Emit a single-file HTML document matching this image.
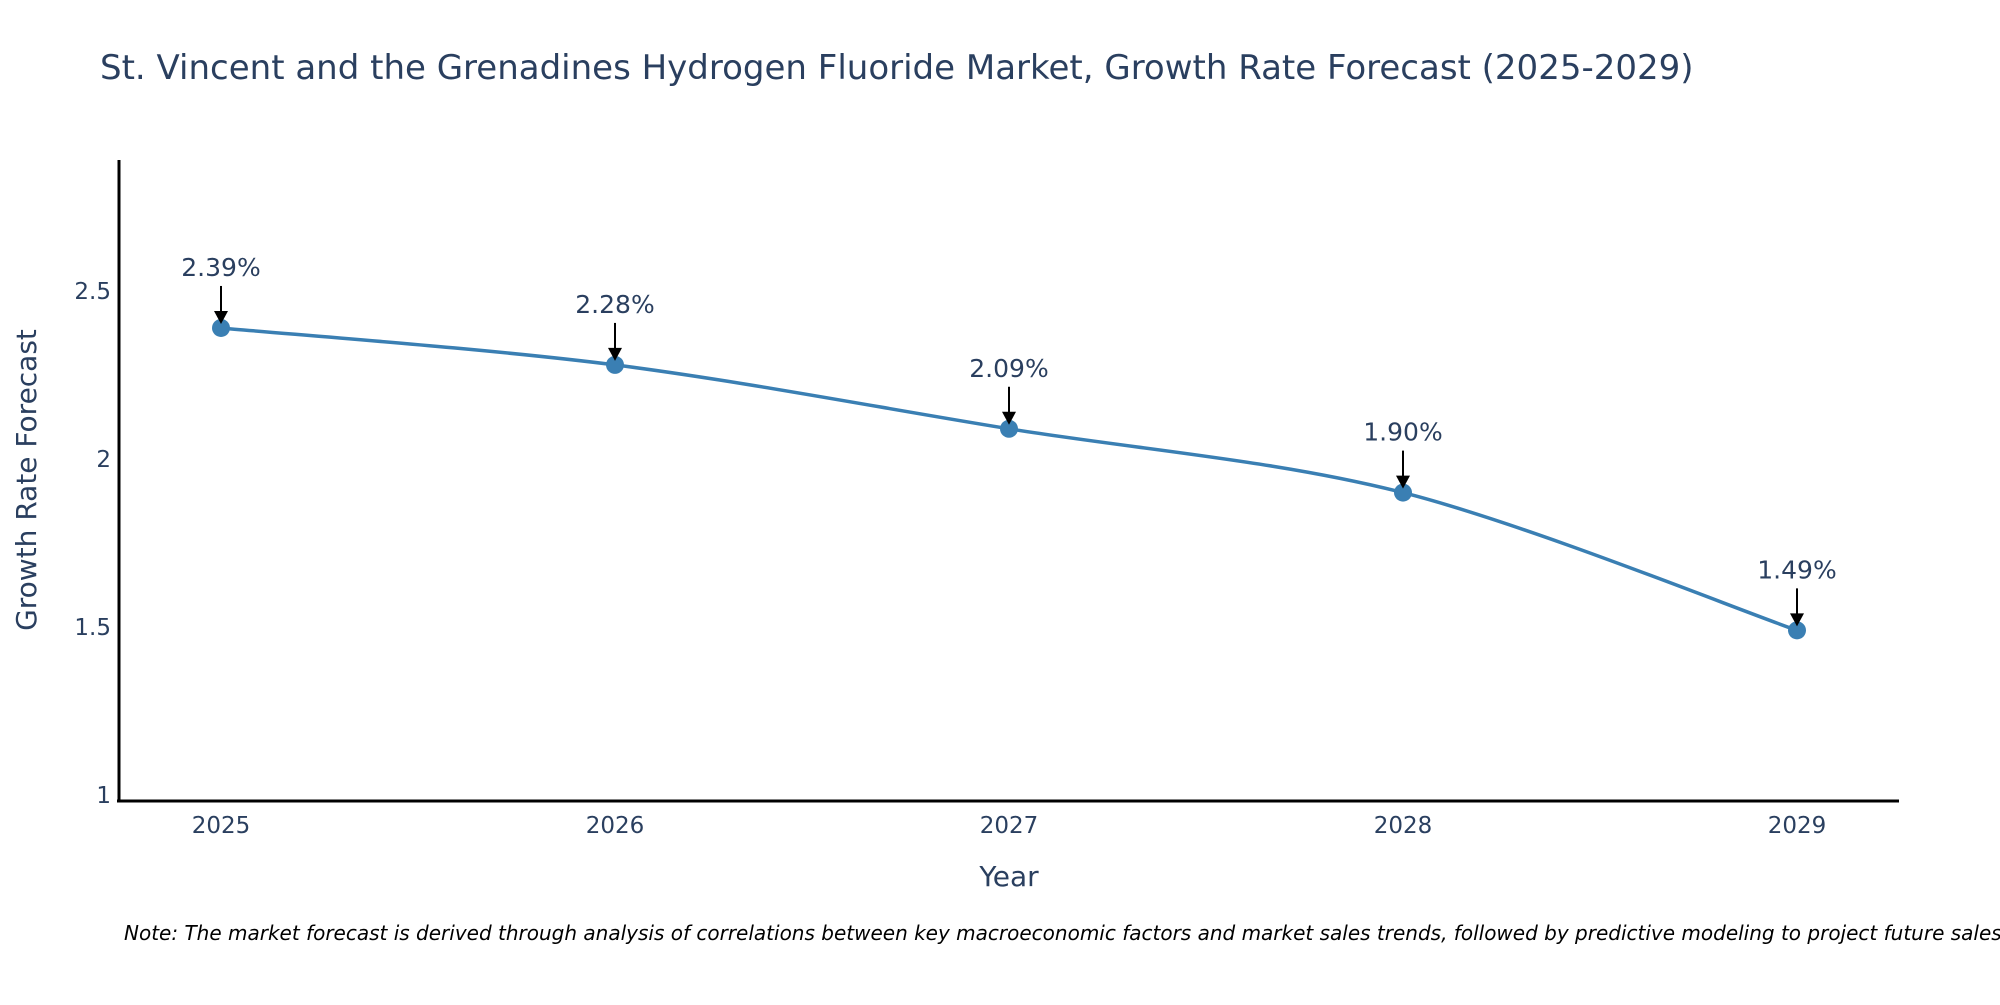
<!DOCTYPE html>
<html><head><meta charset="utf-8"><style>
body{margin:0;background:#fff}
svg text{font-family:"DejaVu Sans","Liberation Sans",sans-serif}
</style></head><body>
<svg id="chart" width="2000" height="1000" viewBox="0 0 2000 1000" xmlns="http://www.w3.org/2000/svg">
<rect width="2000" height="1000" fill="#fff"/>
<text x="100" y="79" font-size="34" fill="#2a3f5f">St. Vincent and the Grenadines Hydrogen Fluoride Market, Growth Rate Forecast (2025-2029)</text>
<g id="yticks"></g>
<g id="xticks"></g>
<line x1="119" y1="160" x2="119" y2="802" stroke="#000" stroke-width="3"/>
<line x1="117" y1="801" x2="1899" y2="801" stroke="#000" stroke-width="3"/>
<path id="line" fill="none" stroke="#3a7fb3" stroke-width="3.5"/>
<g id="marks"></g>
<text x="1009" y="886" font-size="28" fill="#2a3f5f" text-anchor="middle">Year</text>
<text transform="translate(36,480) rotate(-90)" font-size="28" fill="#2a3f5f" text-anchor="middle">Growth Rate Forecast</text>
<text x="124" y="940" font-size="20" font-style="italic" fill="#000">Note: The market forecast is derived through analysis of correlations between key macroeconomic factors and market sales trends, followed by predictive modeling to project future sales.</text>
</svg>
<script>
const years=[2025,2026,2027,2028,2029];
const values=[2.39,2.28,2.09,1.90,1.49];
const labels=["2.39%","2.28%","2.09%","1.90%","1.49%"];
const yTicks=[1,1.5,2,2.5];
const yTickLabels=["1","1.5","2","2.5"];
const NS="http://www.w3.org/2000/svg";
const xS=v=>221+(v-2025)*394;
const yS=v=>795-(v-1)*336;
function mk(t,a){const e=document.createElementNS(NS,t);for(const k in a)e.setAttribute(k,a[k]);return e;}
const yt=document.getElementById('yticks');
yTicks.forEach((v,i)=>{const t=mk('text',{x:111,y:yS(v)+8,'font-size':23,fill:'#2a3f5f','text-anchor':'end'});


t.textContent=yTickLabels[i];yt.appendChild(t);});
const xt=document.getElementById('xticks');
years.forEach(v=>{const t=mk('text',{x:xS(v),y:833,'font-size':23,fill:'#2a3f5f','text-anchor':'middle'});


t.textContent=v;xt.appendChild(t);});
const P=years.map((y,i)=>[xS(y),yS(values[i])]);
let d=`M${P[0][0]},${P[0][1]}`;
for(let i=0;i<P.length-1;i++){const p0=P[Math.max(0,i-1)],p1=P[i],p2=P[i+1],p3=P[Math.min(P.length-1,i+2)];const s=0.16;
d+=` C${p1[0]+(p2[0]-p0[0])*s},${p1[1]+(p2[1]-p0[1])*s} ${p2[0]-(p3[0]-p1[0])*s},${p2[1]-(p3[1]-p1[1])*s} ${p2[0]},${p2[1]}`;}
document.getElementById('line').setAttribute('d',d);
const g=document.getElementById('marks');
P.forEach((p,i)=>{
const c=mk('circle',{cx:p[0],cy:p[1],r:9,fill:'#3a7fb3'});


g.appendChild(c);
const l=mk('line',{x1:p[0],y1:p[1]-42,x2:p[0],y2:p[1]-14,stroke:'#000','stroke-width':2});


g.appendChild(l);
const h=mk('polygon',{points:`${p[0]-7},${p[1]-17} ${p[0]+7},${p[1]-17} ${p[0]},${p[1]-4}`,fill:'#000'});


g.appendChild(h);
const t=mk('text',{x:p[0],y:p[1]-52,'font-size':25,fill:'#2a3f5f','text-anchor':'middle'});


t.textContent=labels[i];g.appendChild(t);});
</script>
</body></html>
